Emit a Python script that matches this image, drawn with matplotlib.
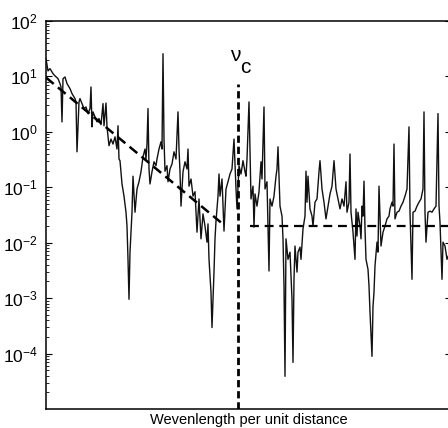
import numpy as np
import matplotlib
matplotlib.use("Agg")
import matplotlib.pyplot as plt
from matplotlib.ticker import LogLocator, NullFormatter, NullLocator

plt.rcParams['font.family'] = ['Liberation Sans', 'DejaVu Sans']

# Spectrum (wavenumber index, log10 of power)
wavenumber = [0, 2, 4, 7, 9, 12, 14, 15, 16, 17, 19, 21, 24, 26, 29, 30, 31, 33, 34, 36,
              38, 40, 42, 44, 45, 46, 47, 49, 51, 53, 55, 57, 58, 60, 61, 63, 65, 67, 69, 71,
              72, 73, 74, 76, 78, 80, 81, 82, 83, 84, 86, 87, 89, 91, 93, 95, 97, 99, 100, 101,
              102, 103, 104, 106, 108, 110, 111, 113, 115, 116, 117, 118, 119, 121, 122, 124, 126, 128, 130, 132,
              133, 134, 135, 137, 139, 141, 142, 143, 145, 147, 149, 151, 153, 155, 157, 159, 161, 162, 163, 165,
              166, 167, 168, 169, 170, 172, 173, 174, 176, 178, 180, 182, 184, 186, 188, 190, 191, 193, 195, 197,
              199, 200, 201, 203, 205, 207, 208, 209, 211, 213, 215, 216, 218, 219, 221, 223, 224, 226, 228, 230,
              231, 232, 234, 236, 237, 238, 239, 240, 242, 244, 246, 247, 248, 249, 251, 252, 254, 255, 257, 259,
              260, 261, 262, 264, 266, 267, 269, 271, 273, 274, 276, 278, 280, 282, 284, 286, 288, 290, 292, 294,
              296, 298, 300, 301, 303, 304, 305, 307, 309, 310, 311, 312, 314, 315, 316, 317, 318, 319, 320, 322,
              323, 324, 326, 327, 328, 329, 331, 332, 333, 335, 337, 339, 341, 343, 344, 346, 347, 348, 349, 351,
              353, 355, 357, 359, 361, 363, 364, 366, 367, 369, 371, 373, 375, 377, 378, 379, 380, 382, 384, 386,
              388, 390, 392, 393, 394, 396, 397, 399, 401, 403]
log10_power = [1.32, 1.10, 1.14, 1.05, 1.01, 0.96, 0.87, 0.81, 0.18, 0.96, 0.99, 0.87, 0.78, 0.69, 0.60, 0.54, -0.36, 0.54, 0.60, 0.51,
               0.42, 0.45, 0.33, 0.42, 0.81, 0.09, 0.36, 0.27, 0.18, 0.24, 0.13, 0.51, 0.11, 0.52, 0.09, -0.25, -0.13, -0.22, -0.09, -0.31,
               0.11, -0.49, -0.52, -0.94, -1.16, -1.45, -1.70, -2.30, -3.02, -2.17, -1.45, -0.80, -1.45, -1.03, -0.90, -0.72, -0.45, -0.31, -0.49, -0.22,
               0.42, -0.67, -0.94, -0.72, -0.54, -0.61, -0.49, -0.31, -0.18, -0.31, 1.41, -0.13, -0.71, -0.61, -0.90, -0.67, -0.58, -0.36, -0.49, 0.36,
               -0.31, -0.72, -1.34, -0.72, -0.54, -0.67, -0.31, -0.98, -0.85, -1.16, -1.08, -1.81, -1.21, -1.93, -1.48, -1.70, -1.99, -1.66, -2.30, -2.89,
               -3.53, -3.02, -2.53, -1.93, -1.61, -1.16, -0.76, -1.16, -0.85, -1.79, -1.03, -0.90, -0.76, -0.67, -0.13, -1.03, -1.39, -0.61, -0.76, -0.52,
               -0.72, -0.80, -0.49, 0.54, -1.21, -0.98, -1.72, -1.12, -1.34, -1.08, -0.54, -0.85, 0.45, -1.03, -0.90, -2.51, -1.21, -1.34, -1.16, -0.80,
               -0.67, -0.27, -1.34, -1.52, -1.93, -2.78, -4.41, -1.93, -2.30, -2.17, -3.02, -4.16, -2.66, -2.06, -2.53, -2.17, -2.08, -2.30, -1.75, -1.52,
               -0.71, -1.27, -0.80, -1.39, -1.52, -1.70, -1.27, -1.21, -0.72, -0.52, -1.03, -1.27, -1.57, -1.34, -1.12, -0.98, -0.52, -1.03, -1.21, -1.39,
               -1.21, -1.34, -0.90, -1.45, -1.27, -0.40, -1.45, -1.81, -2.30, -1.39, -1.88, -1.45, -1.70, -1.93, -1.34, -1.52, -0.89, -1.75, -2.30, -2.48,
               -2.78, -3.25, -4.05, -3.15, -2.89, -2.42, -1.99, -2.17, -0.98, -2.06, -1.81, -1.70, -1.57, -1.52, -1.39, -1.27, -1.34, -0.22, -1.57, -1.45,
               -1.43, -1.34, -1.27, -1.16, -1.03, 0.09, -1.45, -2.66, -1.45, -1.43, -1.34, -1.27, -1.21, -1.03, 0.36, -1.45, -1.99, -1.45, -1.43, -1.45,
               -1.39, -1.34, 0.33, -1.34, -1.63, -2.66, -1.99, -2.06, -2.30, -2.21]

# Dashed fits
fit_k = [0, 178]
fit_log10 = [0.98, -1.68]
plateau_k = [204, 405]
plateau_log10 = [-1.70, -1.70]

# Cutoff
nu_c = 191.5
nu_c_top = 7.4

ylim = (1e-5, 1e2)
xlim = (0, 405)
yticks = [1e-4, 1e-3, 1e-2, 1e-1, 1e0, 1e1, 1e2]

fig = plt.figure(figsize=(4.48, 4.28), dpi=100)
ax = fig.add_axes([46/448, 1 - 409/428, 405/448, 388/428])

ax.plot(wavenumber, 10 ** np.array(log10_power), color='#111111', lw=1.0)
ax.plot(fit_k, 10 ** np.array(fit_log10), color='black', lw=1.8, dashes=(4, 2.2))
ax.plot(plateau_k, 10 ** np.array(plateau_log10), color='black', lw=1.6, dashes=(4, 2.6))
ax.plot([nu_c, nu_c], [ylim[0], nu_c_top], color='black', lw=2.0, dashes=(2.6, 1.4))
ax.annotate('ν', xy=(nu_c, nu_c_top), xytext=(-1.8, 16), textcoords='offset points',
            ha='center', va='baseline', fontsize=15)
ax.annotate('c', xy=(nu_c, nu_c_top), xytext=(5.8, 8), textcoords='offset points',
            ha='center', va='baseline', fontsize=15)

ax.set_yscale('log')
ax.set_xlim(*xlim)
ax.set_ylim(*ylim)
ax.set_yticks(yticks)
ax.yaxis.set_minor_locator(LogLocator(base=10, subs=np.arange(2, 10), numticks=20))
ax.yaxis.set_minor_formatter(NullFormatter())
ax.xaxis.set_major_locator(NullLocator())
ax.xaxis.set_minor_locator(NullLocator())
ax.tick_params(axis='y', which='major', direction='in', left=True, right=True,
               labelsize=12.5, pad=6, length=4, width=0.8)
ax.tick_params(axis='y', which='minor', direction='in', left=True, right=False,
               length=2.2, width=0.6)
for s in ax.spines.values():
    s.set_linewidth(1.1)

ax.set_xlabel('Wevenlength per unit distance', fontsize=10.5, labelpad=3)

fig.savefig('out.png', dpi=100)
